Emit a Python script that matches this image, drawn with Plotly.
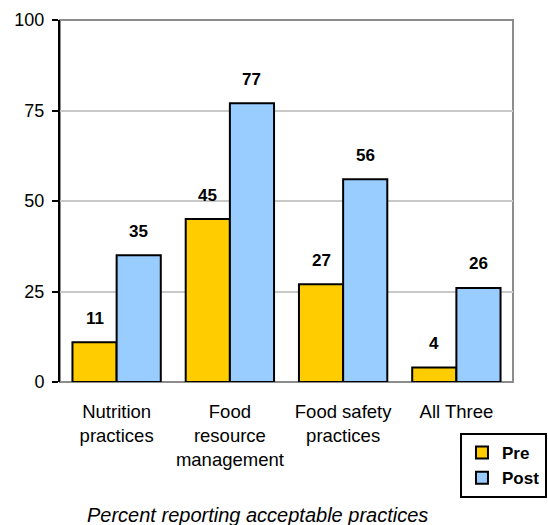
import plotly.graph_objects as go

categories = ["Nutrition<br>practices", "Food<br>resource<br>management", "Food safety<br>practices", "All Three"]
pre_values = [11, 45, 27, 4]
post_values = [35, 77, 56, 26]
y_ticks = [0, 25, 50, 75, 100]

FONT = "Liberation Sans, Arial, sans-serif"
PRE_COLOR = "#FFCC00"
POST_COLOR = "#99CCFF"

fig = go.Figure()
fig.add_trace(go.Bar(name="<b>Pre</b>", x=categories, y=pre_values,
                     marker=dict(color=PRE_COLOR, line=dict(color="black", width=2))))
fig.add_trace(go.Bar(name="<b>Post</b>", x=categories, y=post_values,
                     marker=dict(color=POST_COLOR, line=dict(color="black", width=2))))

annotations = []
for cat, v in zip(categories, pre_values):
    annotations.append(dict(x=cat, y=v, xref="x", yref="y", text=f"<b>{v}</b>", showarrow=False,
                            xshift=-22, yshift=24, font=dict(family=FONT, size=17, color="black")))
for cat, v in zip(categories, post_values):
    annotations.append(dict(x=cat, y=v, xref="x", yref="y", text=f"<b>{v}</b>", showarrow=False,
                            xshift=22, yshift=24, font=dict(family=FONT, size=17, color="black")))
annotations.append(dict(x=0.435, y=-0.367, xref="paper", yref="paper",
                        text="<i>Percent reporting acceptable practices</i>", showarrow=False,
                        xanchor="center", yanchor="middle",
                        font=dict(family=FONT, size=20, color="black")))

fig.update_layout(
    width=548, height=525,
    margin=dict(l=60, r=35, t=20, b=143, autoexpand=False),
    paper_bgcolor="white", plot_bgcolor="white",
    barmode="group", bargap=0.22, bargroupgap=0,
    font=dict(family=FONT, size=15, color="black"),
    showlegend=True,
    legend=dict(x=1.075, y=-0.141, xanchor="right", yanchor="top",
                bordercolor="black", borderwidth=2, bgcolor="white",
                font=dict(family=FONT, size=17, color="black"),
                itemwidth=30, tracegroupgap=2),
    annotations=annotations,
    shapes=[dict(type="rect", xref="paper", yref="paper", x0=0, x1=1, y0=0, y1=1,
                 line=dict(color="#8c8c8c", width=2), layer="below")],
)
fig.update_xaxes(showgrid=False, showline=False, ticks="", ticklabelstandoff=16,
                 tickfont=dict(family=FONT, size=18.5, color="black"))
fig.update_yaxes(range=[0, 100], tickvals=y_ticks, showgrid=True, gridcolor="#c8c8c8", gridwidth=2,
                 showline=True, linecolor="black", linewidth=2, ticks="outside", ticklen=6,
                 tickwidth=2, tickcolor="black", zeroline=False, ticklabelstandoff=4,
                 tickfont=dict(family=FONT, size=18, color="black"))

fig.write_html("out.html")
